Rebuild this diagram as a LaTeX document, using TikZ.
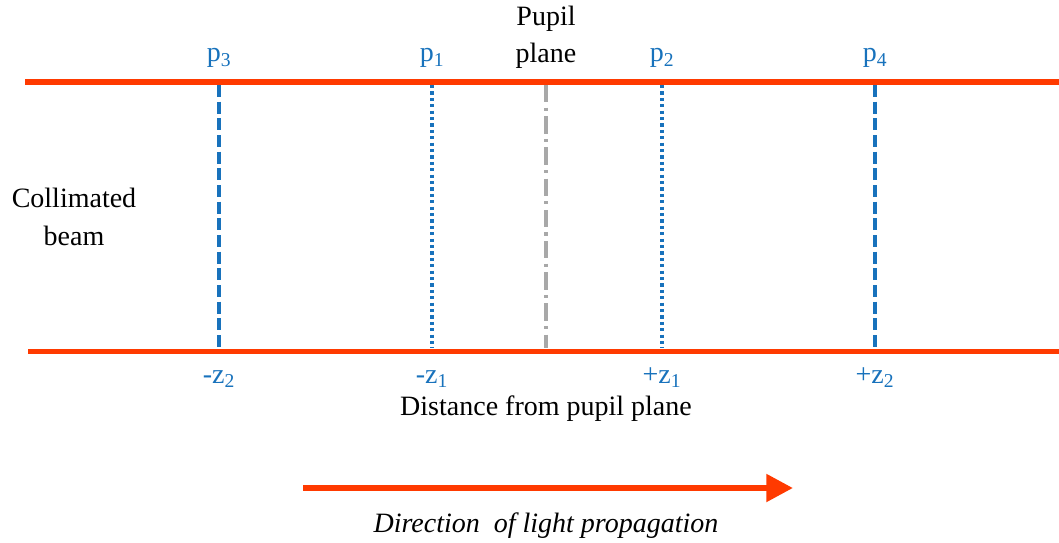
\documentclass[tikz,border=0pt]{standalone}
\usepackage{fontspec}
\setmainfont{Liberation Serif}
\usetikzlibrary{positioning, arrows.meta}
\definecolor{beamred}{RGB}{255,58,0}
\definecolor{planeblue}{RGB}{24,114,188}
\definecolor{pupilgray}{RGB}{168,168,168}

\begin{document}
\begin{tikzpicture}[x=0.75pt, y=-0.75pt,
        beam/.style={beamred, line width=3.75pt},
        plane/.style={planeblue, line width=2.6pt},
        lbl/.style={font=\fontsize{21}{28}\selectfont, align=center, inner sep=0pt},
        plbl/.style={lbl, text=planeblue, anchor=base}]
        \useasboundingbox (0,0) rectangle (1059,542);
        % bordi del fascio
        \coordinate (tl) at (25,82);
        \coordinate (tr) at (1059,82);
        \coordinate (bl) at (28,351);
        \coordinate (br) at (1059,351);
        \draw[beam] (tl) -- (tr);
        \draw[beam] (bl) -- (br);
        % piani p3, p1, pupilla, p2, p4
        \coordinate (t3) at (219,85);  \coordinate (b3) at (219,348);
        \coordinate (t1) at (432,85);  \coordinate (b1) at (432,348);
        \coordinate (tp) at (546,85);  \coordinate (bp) at (546,348);
        \coordinate (t2) at (662,85);  \coordinate (b2) at (662,348);
        \coordinate (t4) at (875,85);  \coordinate (b4) at (875,348);
        \draw[plane, dash pattern=on 9pt off 3.5pt] (t3) -- (b3);
        \draw[plane, dash pattern=on 2.4pt off 2.4pt] (t1) -- (b1);
        \draw[pupilgray, line width=2.6pt, dash pattern=on 13pt off 4pt on 2.4pt off 4pt] (tp) -- (bp);
        \draw[plane, dash pattern=on 2.4pt off 2.4pt] (t2) -- (b2);
        \draw[plane, dash pattern=on 9pt off 3.5pt] (t4) -- (b4);
        % etichette in alto
        \node[plbl] (p3) at (219,62) {p\textsubscript{3}};
        \node[plbl] (p1) at (432,62) {p\textsubscript{1}};
        \node[plbl] (p2) at (662,62) {p\textsubscript{2}};
        \node[plbl] (p4) at (875,62) {p\textsubscript{4}};
        \node[lbl, anchor=base] (pupil) at (546,63) {Pupil\\plane};
        % etichette in basso
        \node[plbl] (z3) at (219,383) {-z\textsubscript{2}};
        \node[plbl] (z1) at (432,383) {-z\textsubscript{1}};
        \node[plbl] (z2) at (662,383) {+z\textsubscript{1}};
        \node[plbl] (z4) at (875,383) {+z\textsubscript{2}};
        \node[lbl, anchor=base] (dist) at (546,415) {Distance from pupil plane};
        \node[lbl, anchor=base] (coll) at (74,245) {Collimated\\beam};
        % freccia di propagazione
        \coordinate (as) at (303,488);
        \coordinate (ae) at (793,488);
        \draw[beamred, line width=4.5pt, -{Triangle[length=20pt, width=20pt]}] (as) -- (ae);
        \node[lbl, anchor=base, font=\fontsize{21}{28}\selectfont\itshape] (dir) at (546,532) {Direction\ \ of light propagation};
\end{tikzpicture}
\end{document}
